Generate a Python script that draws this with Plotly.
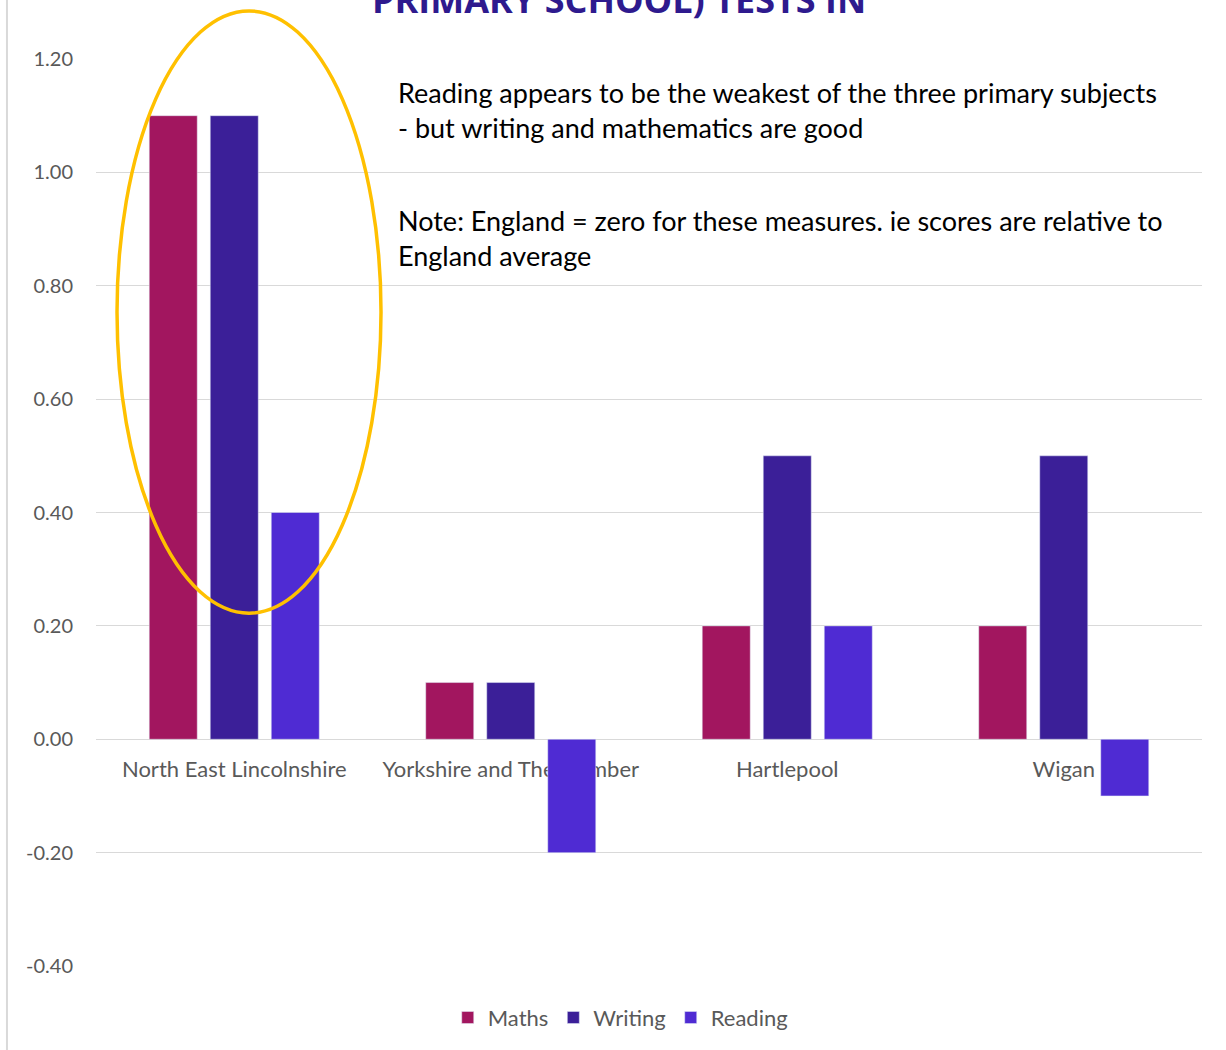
import plotly.graph_objects as go

categories = ["North East Lincolnshire", "Yorkshire and The Humber", "Hartlepool", "Wigan"]
maths = [1.10, 0.10, 0.20, 0.20]
writing = [1.10, 0.10, 0.50, 0.50]
reading = [0.40, -0.20, 0.20, -0.10]
y_ticks = [-0.40, -0.20, 0.00, 0.20, 0.40, 0.60, 0.80, 1.00, 1.20]

y_min, y_max = -0.40, 1.20
font = "Lato, Open Sans, sans-serif"
grey = "#595959"

fig = go.Figure()
fig.add_trace(go.Bar(name="Maths", x=categories, y=maths, marker_color="#A2165F"))
fig.add_trace(go.Bar(name="Writing", x=categories, y=writing, marker_color="#3B1F98"))
fig.add_trace(go.Bar(name="Reading", x=categories, y=reading, marker_color="#4F2BD3"))

# category labels sit on the zero line, as in the Excel original
zero_pos = (0 - y_min) / (y_max - y_min)

fig.update_layout(
    width=1226, height=1050,
    margin=dict(l=96, r=24, t=59, b=84, autoexpand=False),
    plot_bgcolor="white", paper_bgcolor="white",
    barmode="group", bargap=0.338, bargroupgap=0.213,
    font=dict(family=font, color=grey, size=20),
    showlegend=True,
    legend=dict(orientation="h", x=0.474, xanchor="center", y=-0.057, yanchor="middle",
                font=dict(size=22, color=grey), itemwidth=30, traceorder="normal"),
    xaxis=dict(anchor="free", position=zero_pos, showline=False, ticks="",
               layer="below traces", tickfont=dict(size=22, color=grey),
               ticklabelstandoff=15, showgrid=False),
    yaxis=dict(range=[y_min, y_max], tickvals=y_ticks,
               ticktext=[f"{v:.2f}" for v in y_ticks],
               showgrid=True, gridcolor="#D9D9D9", gridwidth=1,
               zeroline=True, zerolinecolor="#D9D9D9", zerolinewidth=1,
               showline=False, ticks="", ticklabelstandoff=22,
               tickfont=dict(size=20, color=grey)),
)

fig.add_annotation(
    text="PRIMARY SCHOOL) TESTS IN", xref="paper", yref="paper",
    x=0.473, y=1.036, xanchor="center", yanchor="bottom", showarrow=False,
    font=dict(size=36, color="#2E1A8E", family="Open Sans, sans-serif", weight="bold"),
)

note_font = dict(size=27, color="#000000", family=font)
fig.add_annotation(
    text=("Reading appears to be the weakest of the three primary subjects<br>"
          "- but writing and mathematics are good"),
    xref="paper", yref="paper", x=0.2715, y=0.9835, xanchor="left", yanchor="top",
    align="left", showarrow=False, font=note_font,
)
fig.add_annotation(
    text=("Note: England = zero for these measures. ie scores are relative to<br>"
          "England average"),
    xref="paper", yref="paper", x=0.2715, y=0.8423, xanchor="left", yanchor="top",
    align="left", showarrow=False, font=note_font,
)

fig.add_shape(type="circle", xref="paper", yref="paper",
              x0=0.019, x1=0.2577, y0=0.389, y1=1.053,
              line=dict(color="#FFC000", width=3.5))

fig.add_shape(type="line", xref="paper", yref="paper",
              x0=-0.0805, x1=-0.0805, y0=-0.1, y1=1.1,
              line=dict(color="#D9D9D9", width=2))

fig.write_html("out.html", config={"displayModeBar": False},
               post_script="document.body.style.margin='0';")
